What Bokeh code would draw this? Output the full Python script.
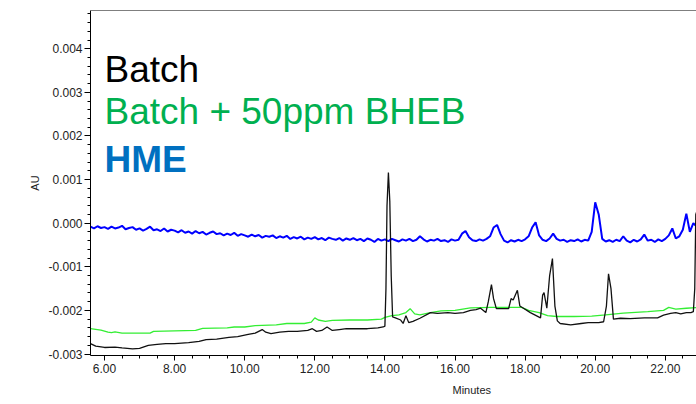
from bokeh.plotting import figure
from bokeh.models import FixedTicker, NumeralTickFormatter, Label, Span, Range1d, Title
from bokeh.embed import file_html
from bokeh.resources import INLINE

# ---- data (AU values stored in units of 1e-5 AU) ----
hme_start = 5.6
hme_step = 0.1
hme_e5 = [
    -8, -12, -7, -11, -9, -13, -8, -12, -10, -6,
    -14, -11, -9, -15, -12, -17, -13, -8, -16, -14,
    -18, -12, -19, -15, -17, -21, -16, -22, -19, -24,
    -18, -23, -20, -26, -22, -19, -25, -23, -28, -24,
    -27, -22, -29, -25, -28, -31, -26, -30, -27, -33,
    -29, -31, -28, -34, -30, -33, -29, -36, -32, -35,
    -31, -37, -33, -36, -32, -37, -34, -39, -33, -36,
    -38, -34, -40, -35, -38, -34, -39, -36, -41, -35,
    -38, -43, -36, -40, -37, -41, -36, -39, -42, -37,
    -40, -36, -41, -38, -30, -37, -42, -38, -40, -36,
    -41, -39, -43, -37, -40, -38, -24, -18, -32, -39,
    -41, -37, -40, -36, -30, -10, -4, -25, -40, -44,
    -39, -42, -38, -41, -37, -30, -10, 2, -28, -38,
    -41, -35, -24, -36, -40, -38, -43, -39, -41, -37,
    -42, -38, -40, -20, 48, 20, -36, -42, -39, -43,
    -38, -41, -30, -40, -44, -38, -42, -37, -26, -40,
    -38, -43, -37, -41, -36, -28, -12, -35, -30, -15,
    22, -20, 0, -8,
]

batch_t = [5.6, 5.75, 6.0, 6.3, 6.5, 6.8, 7.0, 7.25, 7.5, 7.75, 8.0, 8.4, 8.7, 8.9,
           9.2, 9.55, 9.8, 10.1, 10.3, 10.5, 10.6, 10.75, 11.0, 11.25, 11.5, 11.8,
           11.93, 12.05, 12.2, 12.35, 12.5, 12.7, 12.9, 13.2, 13.5, 13.8, 13.95, 14.0,
           14.03, 14.06, 14.1, 14.14, 14.18, 14.22, 14.3, 14.45, 14.52, 14.6, 14.68,
           14.8, 15.0, 15.3, 15.5, 15.8, 16.0, 16.24, 16.44, 16.6, 16.73, 16.88, 16.95,
           17.04, 17.1, 17.18, 17.4, 17.53, 17.6, 17.66, 17.78, 17.85, 17.93, 18.15,
           18.44, 18.5, 18.54, 18.62, 18.7, 18.78, 18.85, 18.92, 19.0, 19.3, 19.6, 19.8,
           20.1, 20.24, 20.32, 20.38, 20.45, 20.52, 20.72, 21.0, 21.4, 21.78, 21.95,
           22.15, 22.3, 22.44, 22.6, 22.73, 22.8, 22.84, 22.87, 22.95]
batch_e5 = [-276, -282, -285, -284, -286, -288, -287, -280, -278, -276, -276, -274, -271, -267,
            -266, -262, -260, -255, -252, -244, -250, -253, -250, -248, -248, -246,
            -242, -248, -246, -238, -246, -244, -242, -242, -242, -240, -238, -236,
            -150, 40, 116, 50, -120, -215, -217, -222, -230, -212, -228,
            -225, -218, -205, -207, -205, -207, -205, -200, -198, -195, -205, -180,
            -141, -173, -196, -196, -196, -173, -176, -154, -190, -194, -205,
            -217, -165, -159, -195, -120, -81, -190, -224, -230, -233, -230, -228,
            -228, -226, -190, -116, -150, -220, -218, -219, -217, -217, -211,
            -207, -205, -208, -205, -205, -203, -150, 20, 40]

bheb_t = [5.6, 5.9, 6.1, 6.2, 6.3, 6.5, 7.0, 7.3, 7.4, 8.0, 8.6, 8.8, 9.5, 9.7, 10.0,
          10.3, 10.9, 11.2, 11.7, 11.9, 12.0, 12.1, 12.3, 12.5, 13.0, 13.5, 13.9, 14.0,
          14.2, 14.4, 14.6, 14.72, 14.85, 15.0, 15.3, 15.6, 16.0, 16.44, 17.0, 17.5,
          17.9, 18.1, 18.4, 18.64, 18.9, 19.4, 19.9, 20.3, 20.8, 21.5, 21.95, 22.1,
          22.3, 22.6, 22.95]
bheb_e5 = [-242, -245, -250, -251, -249, -252, -252, -252, -248, -247, -246, -241, -240, -238, -238,
           -235, -233, -230, -230, -227, -217, -222, -225, -223, -222, -222, -220, -216,
           -212, -210, -205, -196, -208, -210, -205, -201, -200, -194, -193, -193,
           -193, -200, -205, -212, -214, -214, -213, -210, -206, -203, -200, -193,
           -197, -195, -193]

x_ticks = [6, 8, 10, 12, 14, 16, 18, 20, 22]
x_minor = [6.5, 7, 7.5, 8.5, 9, 9.5, 10.5, 11, 11.5, 12.5, 13, 13.5, 14.5, 15, 15.5,
           16.5, 17, 17.5, 18.5, 19, 19.5, 20.5, 21, 21.5, 22.5]
y_ticks = [-0.003, -0.002, -0.001, 0.0, 0.001, 0.002, 0.003, 0.004]
y_minor = [round(-0.003 + 0.0002 * i, 4) for i in range(40)]

series_names = ["Batch", "Batch + 50ppm BHEB", "HME"]

# ---- build ----
hme_t = [round(hme_start + hme_step * i, 2) for i in range(len(hme_e5))]
hme_au = [v * 1e-5 for v in hme_e5]
batch_au = [v * 1e-5 for v in batch_e5]
bheb_au = [v * 1e-5 for v in bheb_e5]

FONT = "Liberation Sans"

p = figure(width=696, height=404,
           x_range=Range1d(5.6006, 22.89), y_range=Range1d(-0.003034, 0.004878),
           output_backend="svg", toolbar_location=None,
           min_border_left=90, min_border_right=0, min_border_top=10, min_border_bottom=49)
p.xgrid.visible = False
p.ygrid.visible = False
p.outline_line_color = None
p.background_fill_color = "white"
p.border_fill_color = "white"

p.line(hme_t, hme_au, line_color="#0000ff", line_width=2)
p.line(bheb_t, bheb_au, line_color="#33ee33", line_width=1.3)
p.line(batch_t, batch_au, line_color="#111111", line_width=1.3)

p.add_layout(Span(location=0.004878, dimension="width", line_color="black", line_width=1))

for ax in (p.xaxis[0], p.yaxis[0]):
    ax.axis_line_color = "black"
    ax.major_tick_line_color = "black"
    ax.minor_tick_line_color = "black"
    ax.major_tick_in = 0
    ax.minor_tick_in = 0
    ax.major_label_text_font = FONT
    ax.major_label_text_font_size = "12px"
    ax.major_label_text_color = "#222222"

p.xaxis.ticker = FixedTicker(ticks=x_ticks, minor_ticks=x_minor)
p.xaxis.formatter = NumeralTickFormatter(format="0.00")
p.xaxis.major_tick_out = 5
p.xaxis.minor_tick_out = 3
p.xaxis.major_label_standoff = 3

p.yaxis.ticker = FixedTicker(ticks=y_ticks, minor_ticks=y_minor)
p.yaxis.formatter = NumeralTickFormatter(format="0.000")
p.yaxis.major_tick_out = 6
p.yaxis.minor_tick_out = 3
p.yaxis.major_label_standoff = 2
p.yaxis.axis_label = "AU"
p.yaxis.axis_label_text_font = FONT
p.yaxis.axis_label_text_font_size = "11px"
p.yaxis.axis_label_text_font_style = "normal"
p.yaxis.axis_label_text_color = "#222222"
p.yaxis.axis_label_standoff = 4

p.add_layout(Title(text="Minutes", align="left", offset=362, standoff=12,
                   text_font=FONT, text_font_size="11px", text_font_style="normal",
                   text_color="#222222"), "below")

legend_colors = ["black", "#00b050", "#0070c0"]
legend_y = [0.003525, 0.00256, 0.001462]
legend_style = ["normal", "normal", "bold"]
for name, c, yy, st in zip(series_names, legend_colors, legend_y, legend_style):
    p.add_layout(Label(x=6.0, y=yy, text=name, text_color=c, text_font=FONT,
                       text_font_size="37px", text_font_style=st,
                       text_baseline="alphabetic"))

open("out.html", "w").write(file_html(p, INLINE))
